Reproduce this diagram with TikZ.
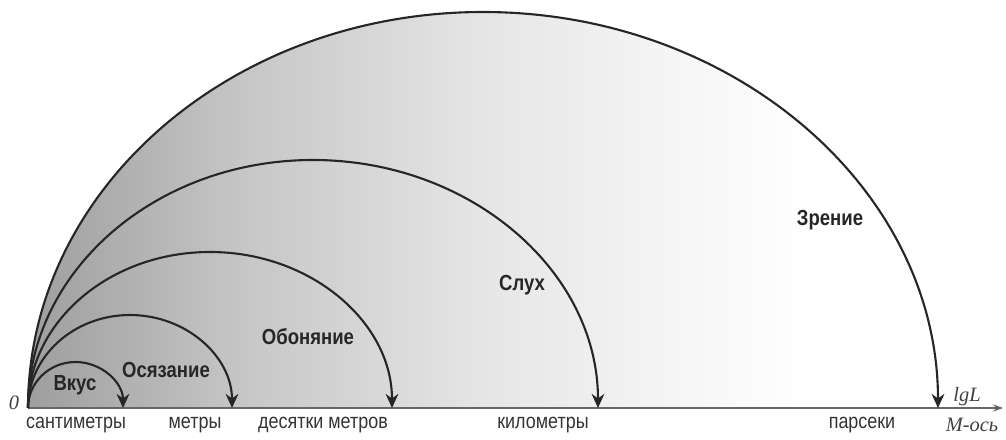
\documentclass[tikz,border=0pt]{standalone}
\usepackage{fontspec}
\setmainfont{Liberation Serif}
\newfontfamily\narrowfont[FakeStretch=0.85]{Liberation Sans}
\usetikzlibrary{arrows.meta}
\pgfdeclarehorizontalshading{sensefade}{100bp}{color(0bp)=(black!38);
  color(25bp)=(black!38); color(37bp)=(black!22); color(50bp)=(black!10);
  color(62bp)=(black!3); color(68bp)=(white); color(100bp)=(white)}

\begin{document}
\begin{tikzpicture}[
    x=0.025cm, y=0.025cm, >=Stealth,
    sense/.style={line width=1.5pt, black!85,
                  -{Stealth[length=10pt, width=9pt]}},
    sname/.style={font=\narrowfont\bfseries\fontsize{15.5}{17}\selectfont,
                  text=black!85},
    scalelbl/.style={font=\narrowfont\fontsize{15}{17}\selectfont,
                     text=black!80},
    axislbl/.style={font=\itshape\fontsize{14.5}{16}\selectfont, text=black!75}
  ]
  \useasboundingbox (-28,-32) rectangle (978,408);
  \coordinate (O) at (0,0);
  \coordinate (axend) at (975,0);

  % shaded field under the widest arc
  \shade[shading=sensefade] (O)
    arc[start angle=180, end angle=0, x radius=455, y radius=396] -- cycle;

  % M axis
  \draw[line width=1.3pt, black!60, -{Stealth[length=7pt, width=5pt]}]
    (O) -- (axend);

  % ranges of the senses
  \draw[sense] (O) arc[start angle=180, end angle=0, x radius=47.5, y radius=46];
  \draw[sense] (O) arc[start angle=180, end angle=0, x radius=102, y radius=93];
  \draw[sense] (O) arc[start angle=180, end angle=0, x radius=182, y radius=156];
  \draw[sense] (O) arc[start angle=180, end angle=0, x radius=285, y radius=248];
  \draw[sense] (O) arc[start angle=180, end angle=0, x radius=455, y radius=396];

  \node[sname] (taste) at (47,23) {Вкус};
  \node[sname] (touch) at (138,38) {Осязание};
  \node[sname] (smell) at (280,71) {Обоняние};
  \node[sname] (hearing) at (494,123) {Слух};
  \node[sname] (vision) at (802,188) {Зрение};

  \node[scalelbl] (cm) at (48,-17) {сантиметры};
  \node[scalelbl] (m) at (167,-17) {метры};
  \node[scalelbl] (tenm) at (295,-17) {десятки метров};
  \node[scalelbl] (km) at (515,-17) {километры};
  \node[scalelbl] (pc) at (834,-17) {парсеки};

  \node[axislbl] (zero) at (-14,5) {0};
  \node[axislbl] (lgl) at (939,11) {lgL};
  \node[axislbl] (maxis) at (944,-17) {М-ось};
\end{tikzpicture}
\end{document}
